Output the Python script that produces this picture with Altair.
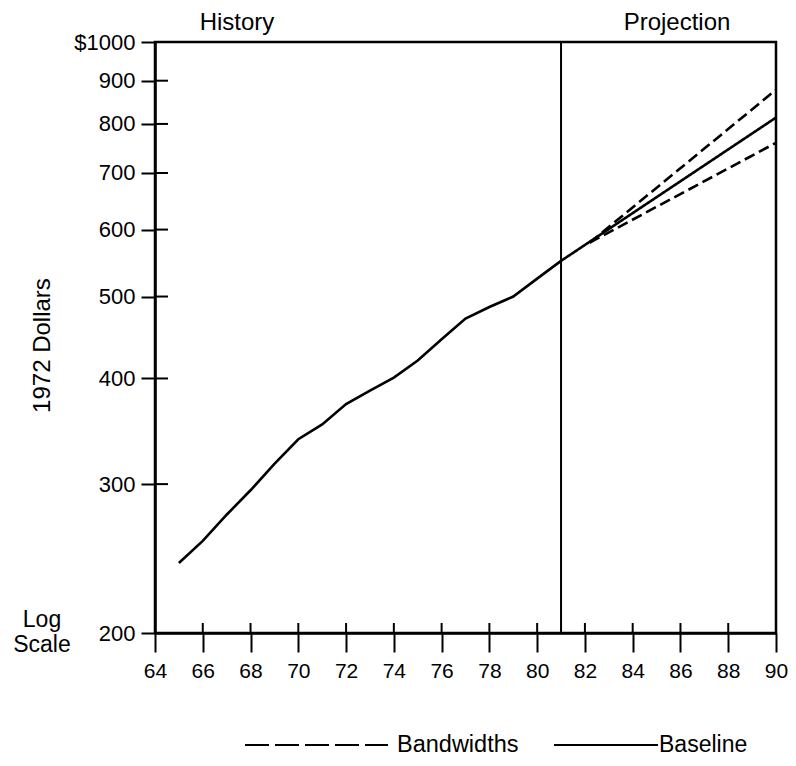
import altair as alt
import pandas as pd

# History (annual, 1972 dollars)
hist_years = [65, 66, 67, 68, 69, 70, 71, 72, 73, 74, 75, 76, 77, 78, 79, 80, 81]
hist_values = [242, 257, 276, 295, 317, 339, 353, 373, 387, 401, 420, 445, 471, 486, 500, 525, 551]

# Projection lines
base_years = [81, 90]
base_values = [551, 814]
upper_years = [82.2, 90]
upper_values = [579, 878]
lower_years = [82.2, 90]
lower_values = [579, 760]

y_ticks = [200, 300, 400, 500, 600, 700, 800, 900, 1000]
y_inner_ticks = [300, 400, 500, 600, 700, 800, 900]
x_ticks = [64, 66, 68, 70, 72, 74, 76, 78, 80, 82, 84, 86, 88, 90]
x_inner_ticks = [66, 68, 70, 72, 74, 76, 78, 80, 82, 84, 86, 88]
divider_year = [81]

legend_labels = ["Bandwidths", "Baseline"]

FONT = "Liberation Sans"
FS = 22      # y tick labels
FX = 21      # x tick labels
FT = 24      # other texts
W, H = 621, 591

hist_df = pd.DataFrame({"year": hist_years, "value": hist_values})
proj_df = pd.DataFrame({
    "year": base_years + upper_years + lower_years,
    "value": base_values + upper_values + lower_values,
    "series": ["base"] * 2 + ["upper"] * 2 + ["lower"] * 2,
    "kind": ["Baseline"] * 2 + ["Bandwidths"] * 4,
})

xscale = alt.Scale(domain=[64, 90], nice=False, zero=False)
yscale = alt.Scale(type="log", domain=[200, 1000], nice=False)

xaxis = alt.Axis(values=x_ticks, title=None, grid=False, tickSize=19, tickWidth=2,
                 tickColor="black", domainColor="black", domainWidth=2.5,
                 labelFont=FONT, labelFontSize=FX, labelColor="black", labelPadding=8,
                 labelFlush=False)
yaxis = alt.Axis(values=y_ticks, title="1972 Dollars", grid=False, tickSize=14, tickWidth=2,
                 tickColor="black", domainColor="black", domainWidth=2.5,
                 labelFont=FONT, labelFontSize=FS, labelColor="black", labelPadding=6,
                 labelExpr="datum.value == 1000 ? '$1000' : datum.label",
                 titleFont=FONT, titleFontSize=FT, titleFontWeight="normal", titleColor="black",
                 titleX=-113, titleY=303, titleAngle=-90, titleAlign="center",
                 titleBaseline="middle", labelFlush=False)

hist = alt.Chart(hist_df).mark_line(color="black", strokeWidth=2.6).encode(
    x=alt.X("year:Q", scale=xscale, axis=xaxis),
    y=alt.Y("value:Q", scale=yscale, axis=yaxis),
)

dash_scale = alt.Scale(domain=legend_labels, range=[[11, 5], [1, 0]])

proj = alt.Chart(proj_df).mark_line(color="black", strokeWidth=2.6).encode(
    x=alt.X("year:Q", scale=xscale),
    y=alt.Y("value:Q", scale=yscale),
    detail="series:N",
    strokeDash=alt.StrokeDash("kind:N", scale=dash_scale, legend=None),
)

divider = alt.Chart(pd.DataFrame({"year": divider_year})).mark_rule(
    color="black", strokeWidth=2).encode(x=alt.X("year:Q", scale=xscale))

yin = alt.Chart(pd.DataFrame({"v": y_inner_ticks})).mark_rule(
    color="black", strokeWidth=2).encode(
    y=alt.Y("v:Q", scale=yscale), x=alt.value(0), x2=alt.value(13))

xin = alt.Chart(pd.DataFrame({"t": x_inner_ticks})).mark_rule(
    color="black", strokeWidth=2).encode(
    x=alt.X("t:Q", scale=xscale), y=alt.value(H - 10), y2=alt.value(H))

one = pd.DataFrame({"a": [0]})


def label(txt, x, y, size=FT, align="center", baseline="alphabetic", **kw):
    return alt.Chart(one).mark_text(font=FONT, fontSize=size, color="black",
                                    align=align, baseline=baseline, **kw).encode(
        x=alt.value(x), y=alt.value(y), text=alt.value(txt))


history_lbl = label("History", 82, -12)
proj_lbl = label("Projection", 522, -12)
log_lbl = label(["Log", "Scale"], -113, 578, size=23, baseline="middle", lineHeight=25)

# Legend (drawn below the plot)
LY = 703
leg_dash = alt.Chart(one).mark_rule(color="black", strokeWidth=2, strokeDash=[24, 6]).encode(
    x=alt.value(90), x2=alt.value(233), y=alt.value(LY))
leg_solid = alt.Chart(one).mark_rule(color="black", strokeWidth=2).encode(
    x=alt.value(399), x2=alt.value(503), y=alt.value(LY))
leg_t1 = label(legend_labels[0], 242, LY, size=23.5, align="left", baseline="middle")
leg_t2 = label(legend_labels[1], 504, LY, size=23, align="left", baseline="middle")

chart = alt.layer(hist, proj, divider, yin, xin, history_lbl, proj_lbl, log_lbl,
                  leg_dash, leg_solid, leg_t1, leg_t2).properties(
    width=W, height=H,
    autosize=alt.AutoSizeParams(type="none"),
    padding={"left": 147, "top": 34, "right": 12, "bottom": 125},
    background="white",
).configure_view(stroke="black", strokeWidth=2.5)

chart.save("out.html", embed_options={"renderer": "svg", "actions": False})
